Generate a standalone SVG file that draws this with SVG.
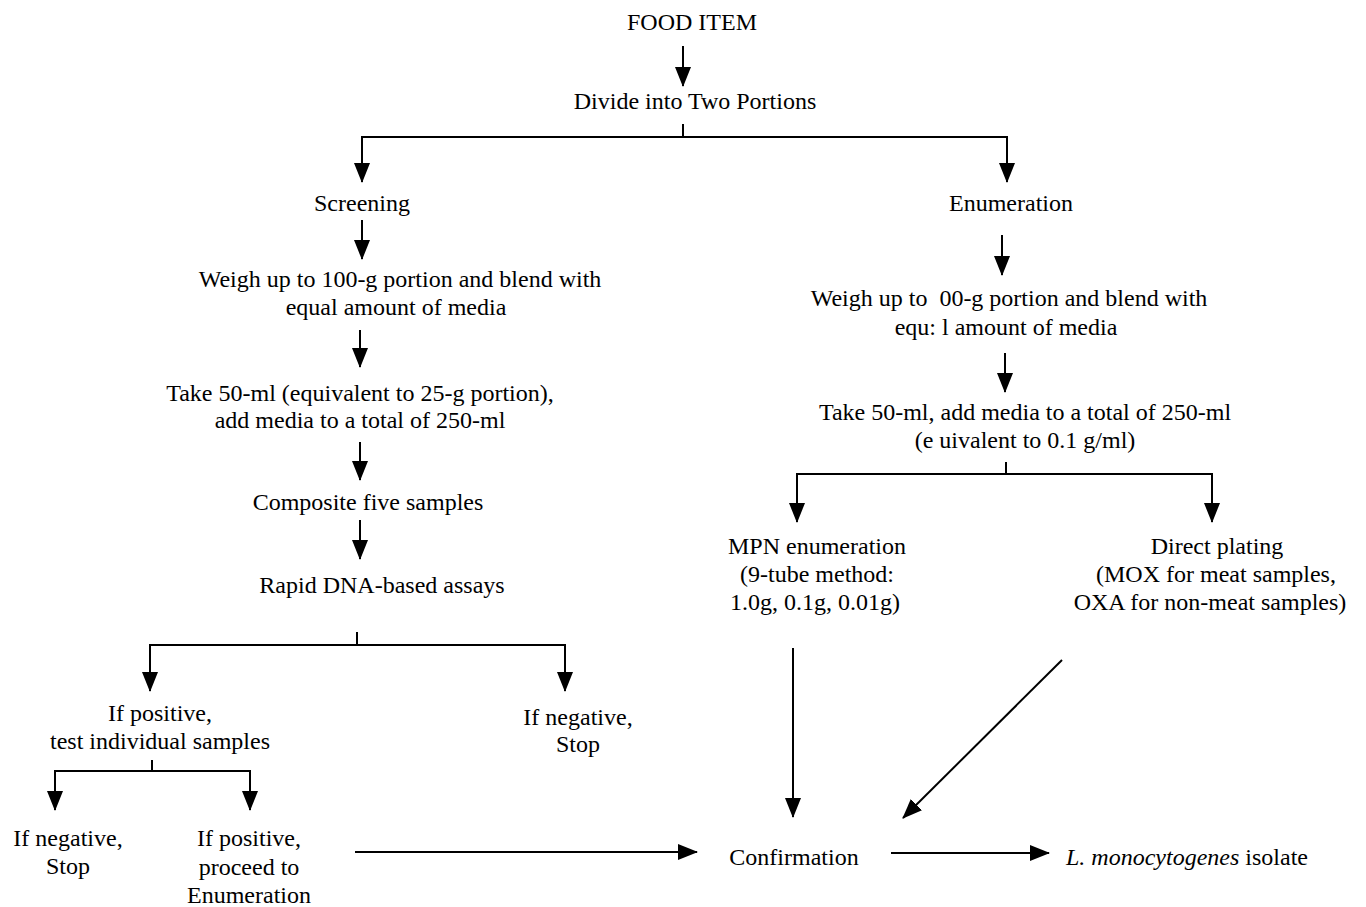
<svg xmlns="http://www.w3.org/2000/svg" width="1366" height="907" viewBox="0 0 1366 907">
<style>
text{font-family:"Liberation Serif","Times New Roman",serif;font-size:24px;fill:#000;text-anchor:middle}
.c path{fill:none;stroke:#000;stroke-width:2;marker-end:url(#ah)}
</style>
<defs>
<marker id="ah" markerUnits="userSpaceOnUse" markerWidth="20" markerHeight="16" refX="19" refY="8" orient="auto">
<path d="M0,0 L20,8 L0,16 z" fill="#000"/>
</marker>
</defs>
<rect width="1366" height="907" fill="#fff"/>
<g class="c" id="connectors">
<path d="M683,46 V86"/>
<path d="M683,124 V137 H362 V182"/>
<path d="M683,137 H1007 V182"/>
<path d="M362,220 V259"/>
<path d="M360,330 V367"/>
<path d="M360,442 V480"/>
<path d="M360,520 V559"/>
<path d="M357,632 V645 H150 V691"/>
<path d="M357,645 H565 V691"/>
<path d="M152,760 V771 H55 V810"/>
<path d="M152,771 H250 V810"/>
<path d="M355,852 H697"/>
<path d="M1002,235 V275"/>
<path d="M1005,353 V392"/>
<path d="M1006,462 V474 H797 V522"/>
<path d="M1006,474 H1212 V522"/>
<path d="M793,648 V817"/>
<path d="M1062,660 L903,818"/>
<path d="M891,853 H1049"/>
</g>
<g id="food"><text x="692" y="30">FOOD ITEM</text></g>
<g id="divide"><text x="695" y="109">Divide into Two Portions</text></g>
<g id="screening"><text x="362" y="211">Screening</text></g>
<g id="enumeration"><text x="1011" y="211">Enumeration</text></g>
<g id="weigh-left"><text x="400" y="287">Weigh up to 100-g portion and blend with</text><text x="396" y="315">equal amount of media</text></g>
<g id="take-left"><text x="360" y="401">Take 50-ml (equivalent to 25-g portion),</text><text x="360" y="428">add media to a total of 250-ml</text></g>
<g id="composite"><text x="368" y="510">Composite five samples</text></g>
<g id="rapid"><text x="382" y="593">Rapid DNA-based assays</text></g>
<g id="pos1"><text x="160" y="721">If positive,</text><text x="160" y="749">test individual samples</text></g>
<g id="neg1"><text x="578" y="725">If negative,</text><text x="578" y="752">Stop</text></g>
<g id="neg2"><text x="68" y="846">If negative,</text><text x="68" y="874">Stop</text></g>
<g id="pos2"><text x="249" y="846">If positive,</text><text x="249" y="875">proceed to</text><text x="249" y="903">Enumeration</text></g>
<g id="weigh-right"><text x="1009" y="306">Weigh up to &#160;00-g portion and blend with</text><text x="1006" y="335">equ: l amount of media</text></g>
<g id="take-right"><text x="1025" y="420">Take 50-ml, add media to a total of 250-ml</text><text x="1025" y="448">(e uivalent to 0.1 g/ml)</text></g>
<g id="mpn"><text x="817" y="554">MPN enumeration</text><text x="817" y="582">(9-tube method:</text><text x="815" y="610">1.0g, 0.1g, 0.01g)</text></g>
<g id="direct"><text x="1217" y="554">Direct plating</text><text x="1216" y="582">(MOX for meat samples,</text><text x="1210" y="610">OXA for non-meat samples)</text></g>
<g id="confirmation"><text x="794" y="865">Confirmation</text></g>
<g id="isolate"><text x="1066" y="865" style="text-anchor:start"><tspan font-style="italic">L. monocytogenes</tspan> isolate</text></g>
</svg>
